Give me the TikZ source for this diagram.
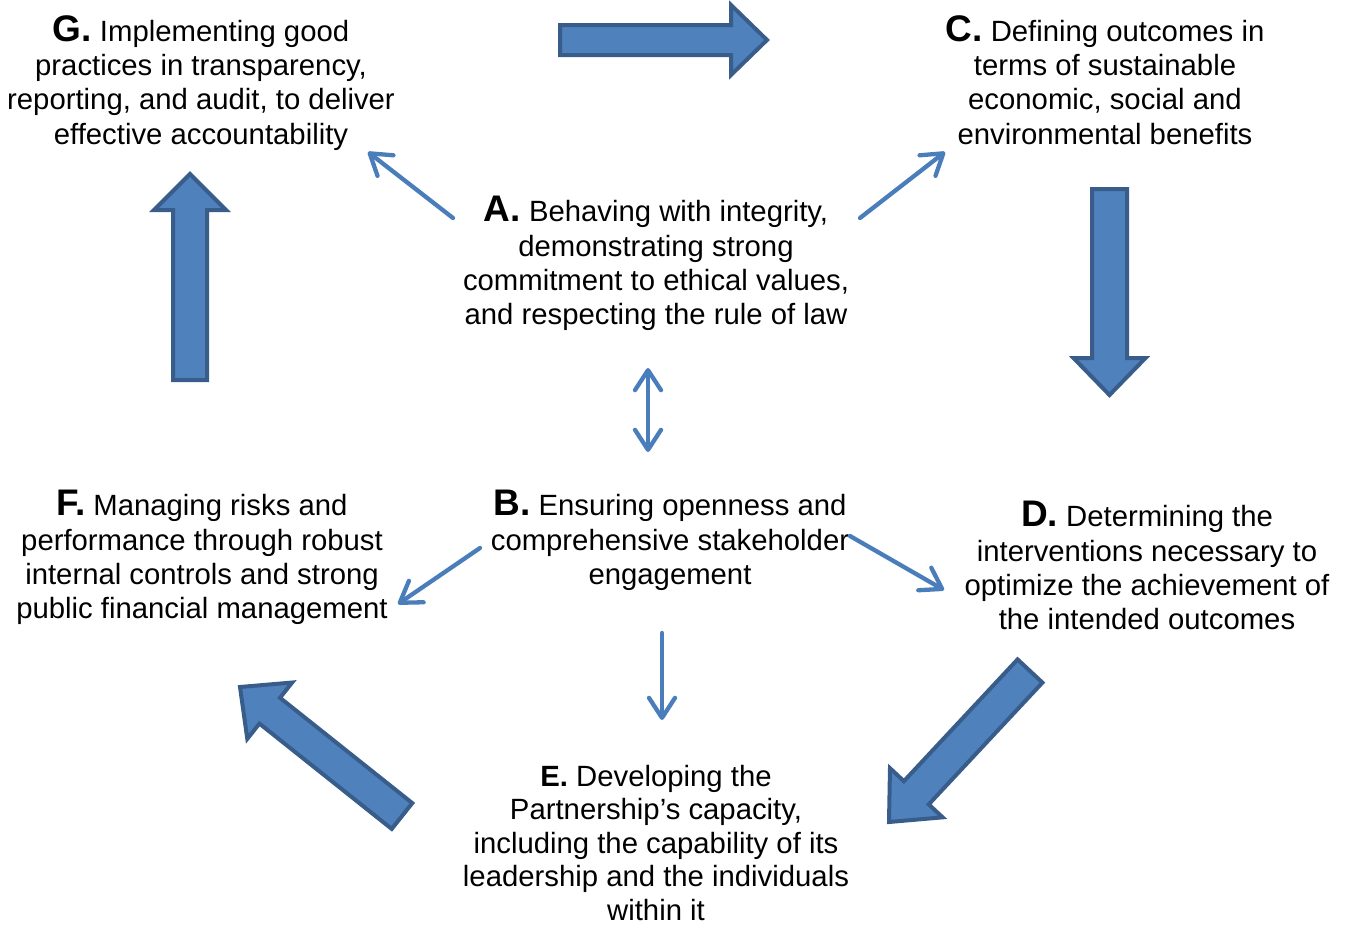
\documentclass[tikz,border=0pt]{standalone}
\usepackage{fontspec}
\setmainfont{Liberation Sans}
\usetikzlibrary{arrows.meta,calc}
\definecolor{bfill}{HTML}{4F81BD}
\definecolor{bline}{HTML}{385D8A}
\definecolor{thinblue}{HTML}{4A7EBB}
\tikzset{
  bigarrow/.style={draw=bline, fill=bfill, line width=4pt, line join=miter},
  barb/.tip={Straight Barb[length=20pt,width=26pt,round]},
  thinarrow/.style={draw=thinblue, line width=4.3pt, line cap=round, -barb},
  twoarrow/.style={draw=thinblue, line width=4.3pt, line cap=round, barb-barb},
  lbl/.style={font=\fontsize{29.3}{34.4}\selectfont, align=center, inner sep=0pt, anchor=north, text=black},
}
\newcommand{\biglet}[1]{{\fontsize{37}{34.4}\selectfont\bfseries #1}}
% tail, tip, half shaft width, half head width, head length
\newcommand{\blockarrow}[5]{%
  \coordinate (hb) at ($(#2)!#5!(#1)$);
  \draw[bigarrow] ($(#1)!#3!90:(#2)$) -- ($(hb)!#3!90:(#2)$) -- ($(hb)!#4!90:(#2)$) -- (#2)
    -- ($(hb)!#4!-90:(#2)$) -- ($(hb)!#3!-90:(#2)$) -- ($(#1)!#3!-90:(#2)$) -- cycle;
}
\begin{document}
\begin{tikzpicture}[x=1pt,y=-1pt]
\path[use as bounding box] (0,0) rectangle (1347,926);

% text nodes
\node[lbl] (G) at (201,15) {\biglet{G.} Implementing good\\practices in transparency,\\reporting, and audit, to deliver\\effective accountability};
\node[lbl] (C) at (1105,15) {\biglet{C.} Defining outcomes in\\terms of sustainable\\economic, social and\\environmental benefits};
\node[lbl] (A) at (656,196) {\biglet{A.} Behaving with integrity,\\demonstrating strong\\commitment to ethical values,\\and respecting the rule of law};
\node[lbl] (B) at (670,490) {\biglet{B.} Ensuring openness and\\comprehensive stakeholder\\engagement};
\node[lbl] (F) at (202,490) {\biglet{F.} Managing risks and\\performance through robust\\internal controls and strong\\public financial management};
\node[lbl] (D) at (1147,501) {\biglet{D.} Determining the\\interventions necessary to\\optimize the achievement of\\the intended outcomes};
\node[lbl, font=\fontsize{29.3}{33.5}\selectfont] (E) at (656,765) {\textbf{E.} Developing the\\Partnership’s capacity,\\including the capability of its\\leadership and the individuals\\within it};

% block arrow end points
\coordinate (GCt) at (560,40);   \coordinate (GCh) at (767,40);
\coordinate (CDt) at (1109.5,189); \coordinate (CDh) at (1109.5,395);
\coordinate (DEt) at (1030,671); \coordinate (DEh) at (889,822);
\coordinate (EFt) at (402,816);  \coordinate (EFh) at (240,687);
\coordinate (FGt) at (190,380);  \coordinate (FGh) at (190,174);

\blockarrow{GCt}{GCh}{15pt}{35pt}{36pt}
\blockarrow{CDt}{CDh}{17.5pt}{36pt}{37pt}
\blockarrow{DEt}{DEh}{17pt}{36pt}{40pt}
\blockarrow{EFt}{EFh}{16.5pt}{36pt}{38pt}
\blockarrow{FGt}{FGh}{17pt}{36pt}{36pt}

% thin arrow end points
\coordinate (ABa) at (648,368); \coordinate (ABb) at (648,452);
\coordinate (AGs) at (453,218); \coordinate (AGe) at (368,152);
\coordinate (ACs) at (860,218); \coordinate (ACe) at (945,152);
\coordinate (BFs) at (480,548); \coordinate (BFe) at (398,604);
\coordinate (BDs) at (850,536); \coordinate (BDe) at (944,590);
\coordinate (BEs) at (662,633); \coordinate (BEe) at (662,720);

\draw[twoarrow] (ABa) -- (ABb);
\draw[thinarrow] (AGs) -- (AGe);
\draw[thinarrow] (ACs) -- (ACe);
\draw[thinarrow] (BFs) -- (BFe);
\draw[thinarrow] (BDs) -- (BDe);
\draw[thinarrow] (BEs) -- (BEe);
\end{tikzpicture}
\end{document}
